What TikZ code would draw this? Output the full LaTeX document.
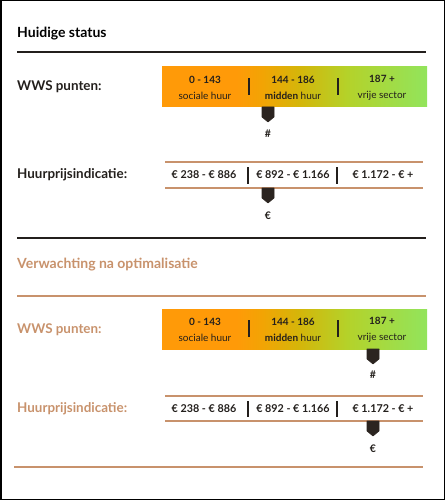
\documentclass[tikz,border=0pt]{standalone}
\usepackage{fontspec}
\setmainfont{Lato}
\usetikzlibrary{calc}
\definecolor{tan}{HTML}{C8926C}
\definecolor{ink}{HTML}{231F1C}
\definecolor{mark}{HTML}{2B2420}
\definecolor{c0}{HTML}{FF9A08}
\definecolor{c1}{HTML}{F2A404}
\definecolor{c2}{HTML}{D4B60A}
\definecolor{c3}{HTML}{B4D22A}
\definecolor{c4}{HTML}{92E45C}
\pgfdeclarehorizontalshading{wws}{100bp}{%
  color(0bp)=(c0); color(25bp)=(c0); color(39bp)=(c0); color(44bp)=(c1); color(51bp)=(c2); color(60bp)=(c3); color(75bp)=(c4); color(100bp)=(c4)}
\tikzset{
  x=1pt,y=-1pt,
  title/.style={anchor=west,font=\bfseries\fontsize{14}{16}\selectfont,inner sep=0pt},
  lbl/.style={anchor=west,font=\bfseries\fontsize{13.4}{15}\selectfont,inner sep=0pt},
  bartxt/.style={align=center,font=\fontsize{10}{15.5}\selectfont,inner sep=0pt,text=ink},
  pricetxt/.style={font=\bfseries\fontsize{10.8}{12}\selectfont,inner sep=0pt,text=ink},
  sep/.style={line width=2.2pt,draw=ink},
  rule/.style={line width=1.1pt},
  pointer/.style={fill=mark,draw=mark,line width=0.6pt,line join=round},
  sym/.style={font=\bfseries\fontsize{10.5}{12}\selectfont,inner sep=0pt,text=ink}
}
\newcommand{\marker}[3]{% x, ytop, name
  \coordinate (#3) at (#1,#2);
  \draw[pointer] ($(#3)+(-6,0)$) -- ($(#3)+(6,0)$) -- ($(#3)+(6,10)$) -- ($(#3)+(0,15)$) -- ($(#3)+(-6,10)$) -- cycle;}
\begin{document}
\begin{tikzpicture}
\useasboundingbox (0,0) rectangle (445,500);
\draw[line width=1.5pt] (0.75,0.75) rectangle (444.25,499.25);

% ---------- Huidige status
\node[title] (t1) at (17,34) {Huidige status};
\coordinate (r1a) at (17,52); \coordinate (r1b) at (426,52);
\draw[rule,ink] (r1a) -- (r1b);

\node[lbl,text=ink] (w1) at (17,87) {WWS punten:};
\shade[shading=wws] (162,67) rectangle (427,107);
\node[bartxt] (a1) at (205,88) {\textbf{0 - 143}\\sociale huur};
\node[bartxt] (b1) at (293,88) {\textbf{144 - 186}\\\textbf{midden} huur};
\node[bartxt] (c1) at (382,88) {\textbf{187 +}\\vrije sector};
\draw[sep] (249,78) -- (249,95);
\draw[sep] (338,78) -- (338,95);
\marker{268}{107}{m1}
\node[sym] (h1) at (268,134) {\#};

\node[lbl,text=ink] (p1) at (17,175) {Huurprijsindicatie:};
\draw[rule,tan] (165,162) -- (423,162);
\draw[rule,tan] (165,188) -- (423,188);
\node[pricetxt] (pa1) at (204,175) {€ 238 - € 886};
\node[pricetxt] (pb1) at (293,175) {€ 892 - € 1.166};
\node[pricetxt] (pc1) at (383,175) {€ 1.172 - € +};
\draw[sep] (248,167) -- (248,184);
\draw[sep] (337,167) -- (337,184);
\marker{268}{188}{m2}
\node[sym] (e1) at (268,216) {€};

\draw[rule,ink] (17,238) -- (426,238);

% ---------- Verwachting
\node[title,text=tan] (t2) at (17,265) {Verwachting na optimalisatie};
\draw[rule,tan] (17,296) -- (426,296);

\node[lbl,text=tan] (w2) at (17,330) {WWS punten:};
\shade[shading=wws] (162,309) rectangle (427,349);
\node[bartxt] (a2) at (205,330) {\textbf{0 - 143}\\sociale huur};
\node[bartxt] (b2) at (293,330) {\textbf{144 - 186}\\\textbf{midden} huur};
\node[bartxt] (c2) at (382,330) {\textbf{187 +}\\vrije sector};
\draw[sep] (249,320) -- (249,337);
\draw[sep] (338,320) -- (338,337);
\marker{373}{349}{m3}
\node[sym] (h2) at (373,375) {\#};

\node[lbl,text=tan] (p2) at (17,409) {Huurprijsindicatie:};
\draw[rule,tan] (165,396) -- (423,396);
\draw[rule,tan] (165,421) -- (423,421);
\node[pricetxt] (pa2) at (204,409) {€ 238 - € 886};
\node[pricetxt] (pb2) at (293,409) {€ 892 - € 1.166};
\node[pricetxt] (pc2) at (383,409) {€ 1.172 - € +};
\draw[sep] (248,401) -- (248,417);
\draw[sep] (337,401) -- (337,417);
\marker{373}{421}{m4}
\node[sym] (e2) at (373,449) {€};

\draw[rule,tan] (14,467) -- (423,467);
\end{tikzpicture}
\end{document}
